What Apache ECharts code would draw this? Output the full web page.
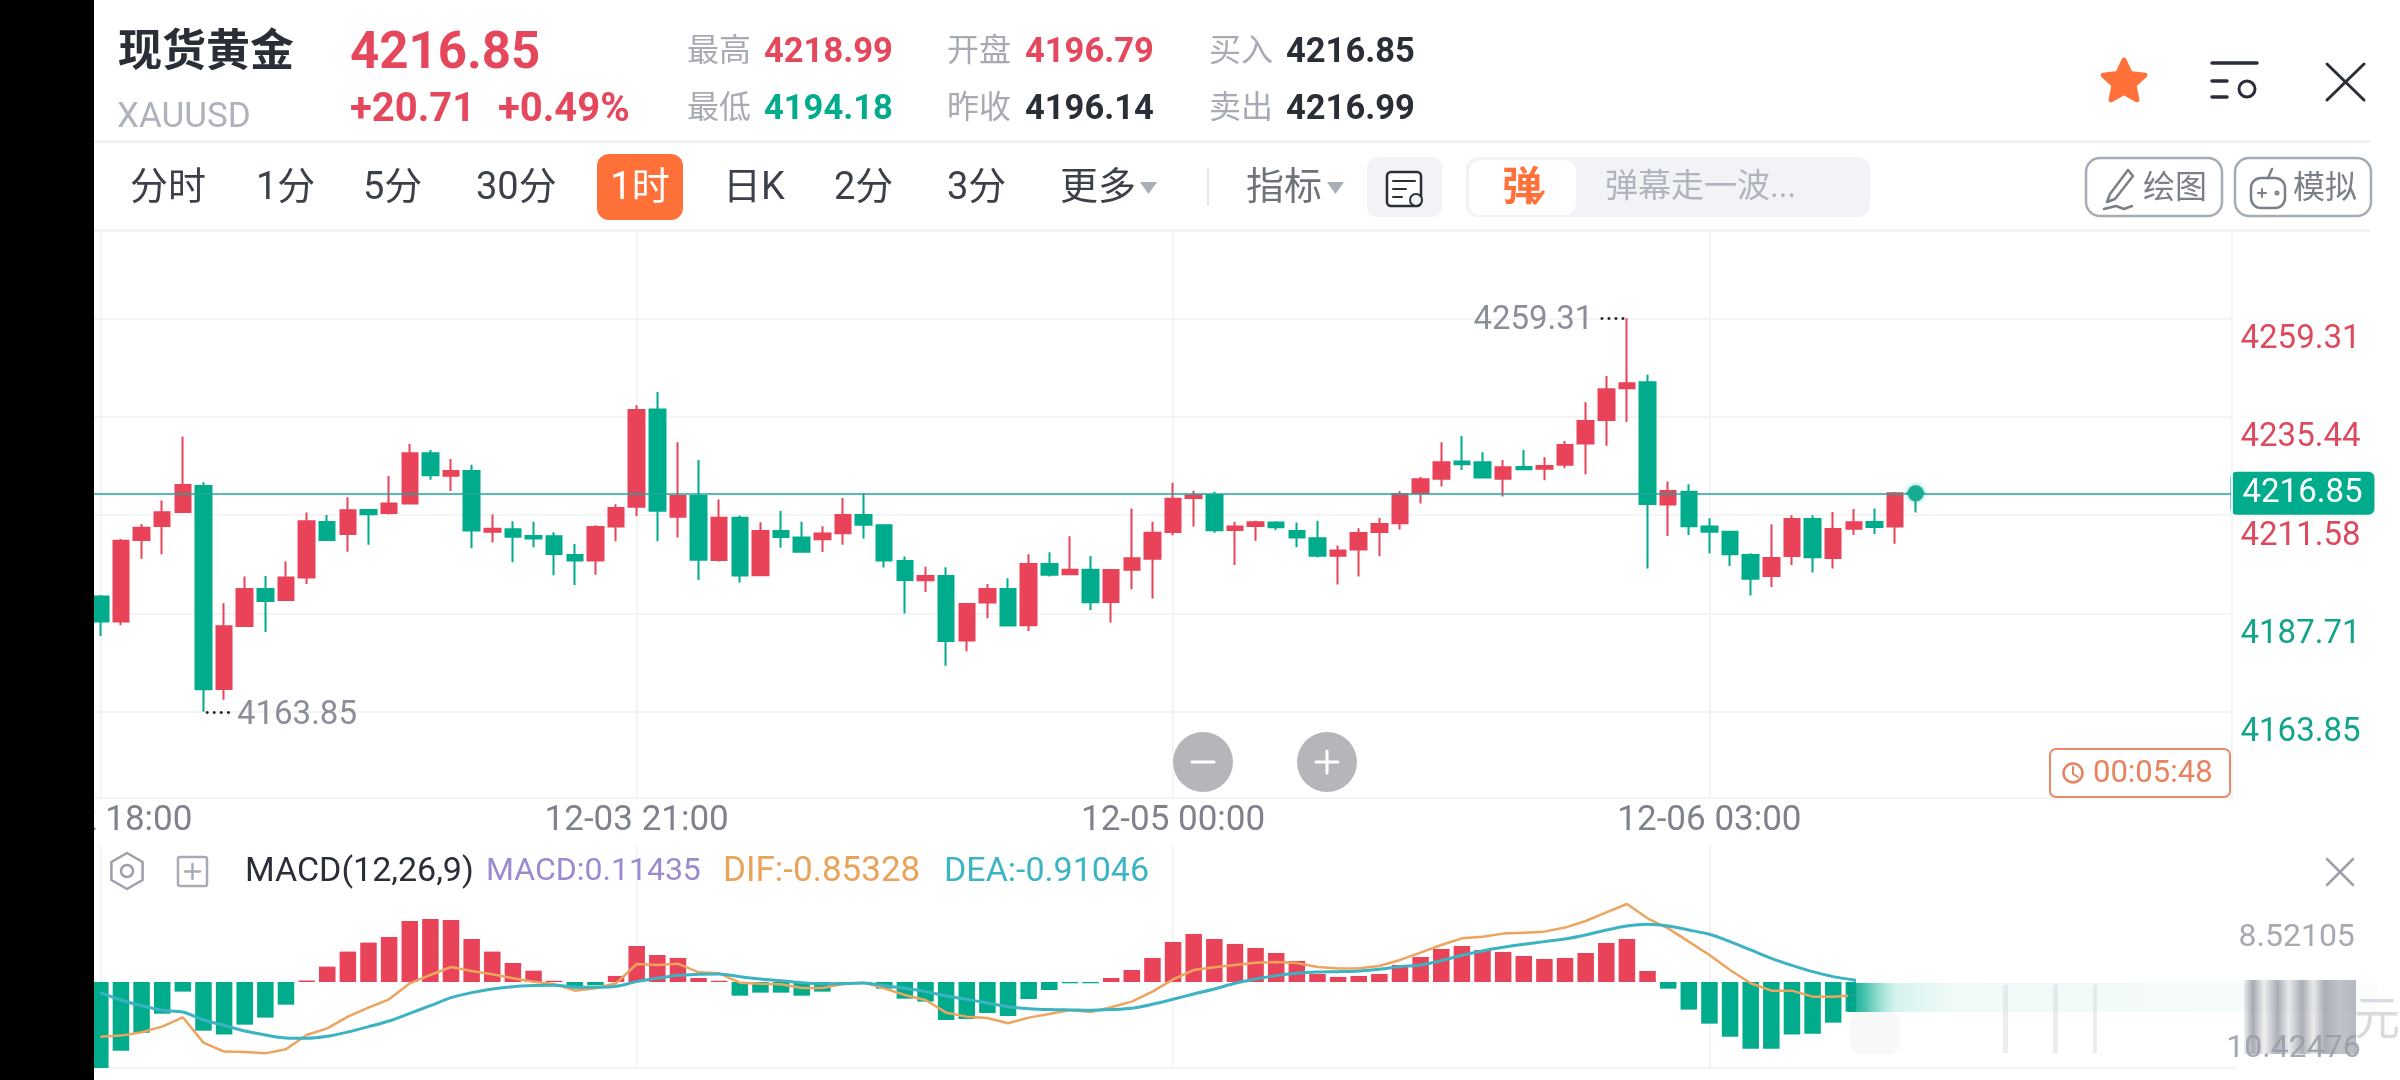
<!DOCTYPE html>
<html>
<head>
<meta charset="utf-8">
<title>现货黄金</title>
<script src="https://cdn.jsdelivr.net/npm/echarts@6/dist/echarts.min.js"></script>
<style>
html,body{margin:0;padding:0;background:#fff}
#chart{width:2400px;height:1080px}
</style>
</head>
<body>
<div id="chart"></div>
<script>
// K线数据，从图上读出来的
var opens = [4191.78,4185.71,4205.52,4208.92,4212.32,4218.63,4169.37,4184.65,4193.63,4190.96,4196.39,4209.89,4206.98,4212.80,4212.07,4214.34,4226.55,4221.13,4222.27,4207.54,4208.11,4206.49,4206.41,4201.88,4200.51,4208.76,4213.61,4237.15,4211.18,4216.20,4200.67,4210.94,4196.95,4207.71,4206.09,4205.68,4207.14,4211.59,4209.08,4200.43,4195.74,4196.79,4181.10,4190.32,4193.63,4184.82,4199.70,4197.19,4198.32,4190.48,4198.32,4200.99,4207.46,4215.71,4216.44,4207.95,4208.92,4209.73,4207.71,4205.93,4201.72,4203.18,4207.46,4209.57,4216.85,4220.40,4224.53,4224.37,4220.40,4223.24,4222.83,4223.80,4228.90,4234.64,4242.33,4243.78,4214.10,4217.25,4208.76,4207.54,4201.88,4196.79,4201.64,4210.62,4201.16,4208.27,4209.89,4208.76,4217.00];
var closes = [4185.71,4205.36,4208.51,4212.24,4218.87,4169.29,4184.57,4193.63,4190.72,4196.39,4210.05,4205.52,4212.72,4211.75,4214.34,4226.55,4221.21,4222.27,4207.79,4208.27,4206.33,4205.85,4202.13,4200.51,4208.68,4213.29,4237.07,4212.64,4216.20,4200.75,4210.94,4196.87,4207.71,4206.25,4202.69,4207.06,4211.59,4209.24,4200.51,4195.82,4196.79,4181.02,4189.99,4193.63,4184.74,4199.70,4197.11,4198.32,4190.40,4198.24,4201.07,4207.30,4215.55,4216.36,4207.87,4208.76,4209.81,4208.60,4206.09,4201.72,4202.94,4207.22,4209.40,4216.68,4220.24,4224.37,4223.88,4220.65,4223.15,4222.67,4223.48,4228.57,4234.40,4242.08,4243.54,4214.26,4217.41,4208.84,4207.54,4202.05,4196.14,4201.16,4210.62,4201.32,4208.19,4209.81,4208.68,4216.85,4216.85];
var lows = [4182.23,4184.82,4200.99,4202.05,4212.24,4163.85,4166.78,4184.49,4183.20,4190.96,4194.85,4205.28,4202.69,4204.39,4211.67,4214.18,4220.16,4217.41,4203.50,4204.88,4200.11,4203.74,4196.95,4194.61,4197.11,4205.20,4211.35,4205.20,4206.09,4195.82,4200.27,4195.17,4196.87,4203.66,4202.61,4202.61,4204.39,4205.85,4198.81,4187.65,4192.91,4175.03,4178.51,4186.52,4184.65,4183.44,4196.63,4197.11,4188.54,4185.47,4193.55,4191.29,4206.66,4208.76,4207.30,4199.46,4205.36,4207.87,4203.74,4201.24,4194.69,4196.63,4201.56,4208.03,4214.34,4218.47,4222.51,4220.57,4216.04,4222.67,4220.00,4222.91,4221.46,4228.41,4234.16,4198.57,4206.49,4206.74,4202.29,4199.21,4192.02,4194.12,4199.46,4197.60,4198.57,4206.74,4206.98,4204.63,4212.16];
var highs = [4192.18,4205.77,4209.40,4215.07,4230.60,4219.51,4190.16,4196.63,4196.79,4200.27,4212.16,4211.59,4215.88,4212.80,4221.05,4228.82,4227.36,4225.18,4223.80,4211.67,4210.05,4209.97,4207.38,4204.55,4209.08,4214.18,4238.20,4241.43,4229.22,4224.93,4215.31,4211.43,4209.81,4212.64,4209.97,4208.84,4215.71,4216.85,4209.08,4201.48,4199.05,4198.89,4189.99,4194.85,4196.22,4202.05,4202.53,4206.41,4201.64,4198.24,4213.13,4209.97,4219.43,4217.49,4217.25,4209.97,4210.21,4210.05,4209.73,4210.21,4204.15,4208.35,4210.86,4217.33,4220.89,4229.22,4230.76,4226.79,4224.93,4227.36,4225.58,4229.55,4238.93,4245.32,4259.31,4245.64,4219.68,4219.03,4210.78,4207.54,4202.29,4209.32,4211.51,4211.51,4212.32,4213.05,4213.13,4217.17,4218.47];

// MACD 副图
var macdBars = [-10.42,-8.32,-6.14,-3.84,-1.17,-5.90,-6.38,-5.17,-4.32,-2.75,0.18,1.86,3.68,4.77,5.45,7.39,7.64,7.51,5.21,3.68,2.30,1.37,0.15,-0.81,-0.40,0.73,4.36,3.27,2.91,0.48,0.15,-1.66,-1.29,-1.29,-1.66,-1.17,-0.10,-0.10,-0.81,-2.02,-2.38,-4.61,-4.48,-3.76,-4.12,-2.06,-0.97,-0.16,-0.16,0.48,1.45,2.91,4.85,5.82,5.21,4.61,4.12,3.51,2.55,0.97,0.61,0.73,0.97,2.06,3.03,4.00,4.36,3.88,3.64,3.15,2.79,2.91,3.51,4.73,5.21,1.33,-0.81,-3.35,-5.05,-6.63,-8.08,-8.08,-6.38,-6.26,-4.93,-3.60,-1.60,-0.70,0.11435];
var dif = [-6.63,-6.50,-6.10,-5.41,-4.28,-7.35,-8.44,-8.48,-8.65,-8.16,-6.42,-5.62,-4.20,-3.11,-2.10,-0.16,0.85,1.82,1.33,0.93,0.44,0.04,-0.24,-1.05,-0.77,-0.16,2.18,2.06,2.22,1.17,1.05,-0.08,-0.20,-0.28,-0.73,-0.73,-0.24,-0.08,-0.77,-1.58,-2.18,-3.72,-4.20,-4.36,-5.01,-4.32,-3.88,-3.39,-3.64,-3.07,-2.38,-1.17,0.32,1.45,1.78,2.06,2.34,2.42,2.30,1.82,1.62,1.66,1.94,2.67,3.56,4.48,5.29,5.49,5.86,5.98,6.10,6.59,7.39,8.44,9.45,7.72,6.50,4.89,3.27,1.45,-0.16,-1.05,-1.05,-1.78,-1.78,-1.62,-1.37,-1.05,-0.85328];
var dea = [-1.29,-2.18,-2.87,-3.43,-3.64,-4.61,-5.25,-5.94,-6.42,-6.79,-6.83,-6.59,-6.06,-5.41,-4.73,-3.80,-2.87,-1.90,-1.29,-0.85,-0.57,-0.44,-0.40,-0.61,-0.65,-0.53,0.04,0.44,0.81,0.93,0.97,0.65,0.36,0.16,-0.08,-0.20,-0.20,-0.12,-0.44,-0.77,-1.17,-1.70,-2.10,-2.55,-2.99,-3.23,-3.35,-3.39,-3.43,-3.35,-3.19,-2.71,-2.10,-1.45,-0.85,-0.16,0.36,0.77,1.05,1.21,1.25,1.33,1.54,1.86,2.06,2.59,3.23,3.76,4.20,4.57,4.89,5.21,5.70,6.30,6.79,6.99,6.79,6.30,5.78,4.89,3.88,2.87,2.02,1.25,0.65,0.24,-0.24,-0.57,-0.91046];

// 坐标轴
var timeTicks = {0:'12-02 18:00', 26:'12-03 21:00', 52:'12-05 00:00', 78:'12-06 03:00'};
var priceTicks = [4259.31, 4235.44, 4211.58, 4187.71, 4163.85];
var macdTicks = [8.52105, -10.42476];
var lastPrice = 4216.85;
var highPrice = 4259.31;
var lowPrice = 4163.85;
var categories = [];
for (var c = 0; c < 104; c++) categories.push(timeTicks[c] || String(c));

var RED = '#E9435A', GREEN = '#00AC8C', GRID = '#F4F4F6', FONT = 'Roboto, "Noto Sans CJK SC"';
function isTickFn(i) { return timeTicks[i] !== undefined; }

// graphic 小工具
function txt(x, y, text, size, fill, weight, align) {
    return {type: 'text', z: 50, style: {x: x, y: y + 3, text: text, fontSize: size, fontFamily: FONT,
        fontWeight: weight || 'normal', fill: fill, textAlign: align || 'left', textVerticalAlign: 'middle'}};
}
function box(x, y, w, h, fill, r, stroke, lw) {
    return {type: 'rect', z: 40, shape: {x: x, y: y, width: w, height: h, r: r || 0},
        style: {fill: fill || 'none', stroke: stroke || null, lineWidth: lw || 0}};
}
function seg(pts, stroke, lw) {
    return {type: 'polyline', z: 50, shape: {points: pts}, style: {fill: 'none', stroke: stroke, lineWidth: lw || 2, lineCap: 'round', lineJoin: 'round'}};
}
function ring(cx, cy, r, stroke, lw, fill) {
    return {type: 'circle', z: 50, shape: {cx: cx, cy: cy, r: r}, style: {fill: fill || 'none', stroke: stroke, lineWidth: lw}};
}
function starPts(cx, cy, R, rr) {
    var p = [];
    for (var i = 0; i < 10; i++) {
        var a = -Math.PI / 2 + i * Math.PI / 5, d = i % 2 ? rr : R;
        p.push([cx + d * Math.cos(a), cy + d * Math.sin(a)]);
    }
    return p;
}
function hexPts(cx, cy, R) {
    var p = [];
    for (var i = 0; i <= 6; i++) {
        var a = -Math.PI / 2 + i * Math.PI / 3;
        p.push([cx + R * Math.cos(a), cy + R * Math.sin(a)]);
    }
    return p;
}
function fade(stops) {
    return {type: 'linear', x: 0, y: 0, x2: 1, y2: 0, colorStops: stops};
}
function lift(el, z) { el.z = z; return el; }

var DARK = '#2A2E36', GREY = '#A7ABB3', TOOL = '#3C4048', STRIPE = 'rgba(150,155,165,';
var graphics = [
    // 顶部报价
    txt(118, 52, '现货黄金', 44, DARK, 'bold'),
    txt(350, 52, '4216.85', 51, '#E5475C', 'bold'),
    txt(117, 115, 'XAUUSD', 35, '#AEB2BA'),
    txt(350, 108, '+20.71', 40, '#E5475C', 'bold'),
    txt(498, 108, '+0.49%', 40, '#E5475C', 'bold'),
    txt(687, 50, '最高', 32, GREY), txt(764, 50, '4218.99', 34.5, '#E5475C', 'bold'),
    txt(687, 107, '最低', 32, GREY), txt(764, 107, '4194.18', 34.5, GREEN, 'bold'),
    txt(947, 50, '开盘', 32, GREY), txt(1025, 50, '4196.79', 34.5, '#E5475C', 'bold'),
    txt(947, 107, '昨收', 32, GREY), txt(1025, 107, '4196.14', 34.5, DARK, 'bold'),
    txt(1209, 50, '买入', 32, GREY), txt(1286, 50, '4216.85', 34.5, DARK, 'bold'),
    txt(1209, 107, '卖出', 32, GREY), txt(1286, 107, '4216.99', 34.5, DARK, 'bold'),
    {type: 'polygon', z: 50, shape: {points: starPts(2124, 82, 22, 10.5)}, style: {fill: '#FF7139', stroke: '#FF7139', lineWidth: 5, lineJoin: 'round'}},
    seg([[2212, 63], [2257, 63]], DARK, 3.5), seg([[2212, 81], [2227, 81]], DARK, 3.5), seg([[2212, 97], [2227, 97]], DARK, 3.5),
    ring(2247, 89, 8, DARK, 3),
    seg([[2327, 64], [2364, 100]], DARK, 3), seg([[2364, 64], [2327, 100]], DARK, 3),
    box(94, 140, 2276, 3, '#EEF0F2'),
    box(94, 229, 2276, 3, '#F1F2F4'),

    // 周期工具栏
    txt(130, 186, '分时', 38, TOOL), txt(256, 186, '1分', 38, TOOL), txt(363, 186, '5分', 38, TOOL), txt(476, 186, '30分', 38, TOOL),
    box(597, 154, 86, 66, '#FF7139', 12), txt(640, 186, '1时', 38, '#fff', 'normal', 'center'),
    txt(723, 186, '日K', 38, TOOL), txt(834, 186, '2分', 38, TOOL), txt(947, 186, '3分', 38, TOOL), txt(1060, 186, '更多', 38, TOOL),
    {type: 'polygon', z: 50, shape: {points: [[1140, 182], [1157, 182], [1148.5, 194]]}, style: {fill: '#A9ADB5'}},
    box(1207, 168, 2, 38, '#E6E8EB'),
    txt(1246, 186, '指标', 38, '#6E727B'),
    {type: 'polygon', z: 50, shape: {points: [[1327, 182], [1344, 182], [1335.5, 194]]}, style: {fill: '#A9ADB5'}},
    box(1367, 157, 75, 60, '#F1F3F7', 10),
    box(1387, 172, 34, 34, '#fff', 4, DARK, 2.5),
    seg([[1393, 181], [1415, 181]], DARK, 2), seg([[1393, 189], [1406, 189]], DARK, 2), seg([[1393, 197], [1402, 197]], DARK, 2),
    ring(1416, 200, 6, DARK, 2, '#F1F3F7'),
    box(1466, 157, 404, 60, '#F1F3F7', 12),
    box(1469, 160, 107, 55, '#fff', 12),
    txt(1522, 187, '弹', 40, '#FF7139', 'bold', 'center'),
    seg([[1530, 197], [1535, 203], [1543, 192]], '#FF7139', 3.5),
    txt(1605, 186, '弹幕走一波...', 33, '#B0B4BD'),
    box(2086, 158, 136, 58, '#fff', 14, '#A6ACB4', 2.5),
    seg([[2128, 170], [2110, 194], [2107, 202], [2115, 199], [2133, 176], [2128, 170]], '#7B7F88', 2.5),
    seg([[2104, 209], [2116, 206], [2124, 209], [2132, 206]], '#7B7F88', 2.5),
    txt(2143, 187, '绘图', 32, '#7B7F88'),
    box(2235, 158, 136, 58, '#fff', 14, '#A6ACB4', 2.5),
    box(2251, 178, 34, 30, 'none', 10, '#7B7F88', 2.5),
    seg([[2268, 178], [2272, 169]], '#7B7F88', 2.5),
    seg([[2258, 193], [2266, 193]], '#7B7F88', 2), seg([[2262, 189], [2262, 197]], '#7B7F88', 2), ring(2277, 193, 1.5, '#7B7F88', 2),
    txt(2293, 187, '模拟', 32, '#7B7F88'),

    // 价格轴竖线，网格比它多出的一点盖掉
    box(2233, 232, 5, 238, '#fff'), box(2233, 517, 5, 282, '#fff'),
    box(2231, 232, 2, 566, GRID),

    // 缩放按钮
    {type: 'circle', z: 50, shape: {cx: 1203, cy: 762, r: 30}, style: {fill: '#B4B6BA'}},
    seg([[1192, 762], [1214, 762]], '#fff', 3),
    {type: 'circle', z: 50, shape: {cx: 1327, cy: 762, r: 30}, style: {fill: '#B4B6BA'}},
    seg([[1316, 762], [1338, 762]], '#fff', 3), seg([[1327, 751], [1327, 773]], '#fff', 3),

    // 倒计时
    box(2050, 749, 180, 48, '#fff', 6, '#E8896A', 2),
    ring(2073, 773, 9.5, '#E8835F', 2.5),
    seg([[2073, 767], [2073, 774], [2078, 777]], '#E8835F', 2),
    txt(2093, 771, '00:05:48', 31, '#E8835F'),

    // MACD 标题
    seg(hexPts(127, 871, 18), '#9CA0A8', 2.5), ring(127, 871, 6, '#9CA0A8', 2.5),
    box(178, 857, 29, 29, 'none', 2, '#A7ABB3', 2.5),
    seg([[185, 871.5], [200, 871.5]], '#A7ABB3', 2.5), seg([[192.5, 864], [192.5, 879]], '#A7ABB3', 2.5),
    txt(245, 869, 'MACD(12,26,9)', 34, DARK),
    txt(486, 869, 'MACD:0.11435', 32, '#9B8AD0'),
    txt(723, 869, 'DIF:-0.85328', 35, '#EAA35A'),
    txt(944, 869, 'DEA:-0.91046', 34, '#3BB5C4'),
    seg([[2327, 859], [2353, 885]], '#9CA0A8', 2.5), seg([[2353, 859], [2327, 885]], '#9CA0A8', 2.5),

    // 右下角被抹掉的一块
    lift(box(1856, 960, 370, 107, '#fff'), 60),
    lift(box(1850, 1012, 50, 42, 'rgba(215,218,222,0.18)', 10), 61),
    lift(box(2003, 985, 5, 68, 'rgba(205,208,212,0.4)'), 61),
    lift(box(2053, 985, 5, 68, 'rgba(205,208,212,0.4)'), 61),
    lift(box(2093, 985, 4, 68, 'rgba(205,208,212,0.4)'), 61),
    {type: 'rect', z: 62, shape: {x: 1848, y: 983, width: 530, height: 29}, style: {fill: fade([
        {offset: 0, color: 'rgba(0,160,140,0.95)'}, {offset: 0.03, color: 'rgba(0,172,140,0.75)'},
        {offset: 0.09, color: 'rgba(120,215,200,0.3)'}, {offset: 0.2, color: 'rgba(195,235,228,0.25)'},
        {offset: 0.75, color: 'rgba(205,235,230,0.2)'}, {offset: 1, color: 'rgba(220,238,235,0.1)'}])}},
    {type: 'rect', z: 63, shape: {x: 2244, y: 980, width: 112, height: 74}, style: {fill: fade([
        {offset: 0, color: STRIPE + '0.15)'}, {offset: 0.08, color: STRIPE + '0.85)'}, {offset: 0.18, color: STRIPE + '0.15)'},
        {offset: 0.3, color: STRIPE + '0.8)'}, {offset: 0.4, color: STRIPE + '0.2)'},
        {offset: 0.52, color: STRIPE + '0.8)'}, {offset: 0.62, color: STRIPE + '0.2)'},
        {offset: 0.72, color: STRIPE + '0.8)'}, {offset: 0.85, color: STRIPE + '0.6)'}, {offset: 1, color: STRIPE + '0.7)'}])}},
    lift(txt(2354, 1019, '元', 46, '#D8DADF'), 64),

    // 左边黑边
    {type: 'rect', z: 100, shape: {x: 0, y: 0, width: 94, height: 1080}, style: {fill: '#000'}}
];

var myChart = echarts.init(document.getElementById('chart'), null, {renderer: 'canvas'});
myChart.setOption({
    animation: false,
    backgroundColor: '#fff',
    textStyle: {fontFamily: FONT},
    graphic: {elements: graphics},
    grid: [
        {left: 90, width: 2145.5, top: 231, height: 567},
        {left: 90, width: 2145.5, top: 845, height: 223}
    ],
    xAxis: [
        {
            type: 'category', gridIndex: 0, data: categories, boundaryGap: true,
            axisLine: {lineStyle: {color: GRID, width: 2}},
            axisTick: {show: false},
            axisLabel: {interval: isTickFn, margin: 6, fontSize: 35, fontFamily: FONT, color: '#7E828C'},
            splitLine: {show: true, alignWithLabel: true, interval: isTickFn, lineStyle: {color: GRID, width: 2}}
        },
        {
            type: 'category', gridIndex: 1, data: categories, boundaryGap: true,
            axisLine: {onZero: false, lineStyle: {color: GRID, width: 2}},
            axisTick: {show: false},
            axisLabel: {show: false},
            splitLine: {show: true, alignWithLabel: true, interval: isTickFn, lineStyle: {color: GRID, width: 2}}
        }
    ],
    yAxis: [
        {
            type: 'value', gridIndex: 0, position: 'right', min: 4142.91, max: 4280.49, scale: true,
            axisLine: {show: false},
            axisTick: {show: false, customValues: priceTicks},
            splitLine: {show: true, lineStyle: {color: GRID, width: 2}},
            axisLabel: {
                customValues: priceTicks, margin: 5, fontSize: 33, fontFamily: FONT,
                verticalAlign: 'top', lineHeight: 33, padding: [5, 0, 0, 0],
                formatter: function (v) { return v.toFixed(2); },
                color: function (v) { return v > 4200 ? '#DC4A5E' : '#12A58B'; }
            }
        },
        {
            type: 'value', gridIndex: 1, position: 'right', min: -10.42476, max: 16.6,
            axisLine: {show: false},
            axisTick: {show: false, customValues: macdTicks},
            splitLine: {show: false},
            axisLabel: {
                customValues: macdTicks, margin: -18,
                formatter: function (v) { return (v > 0 ? '{a|' : '{b|') + v.toFixed(5) + '}'; },
                rich: {
                    a: {fontSize: 32, fontFamily: FONT, color: '#A5A9B2', padding: [52, 0, 0, 21]},
                    b: {fontSize: 32, fontFamily: FONT, color: '#A5A9B2', padding: [0, 0, 38, 0]}
                }
            }
        }
    ],
    series: [
        {
            type: 'candlestick', xAxisIndex: 0, yAxisIndex: 0, barWidth: 16,
            data: opens.map(function (o, i) { return [o, closes[i], lows[i], highs[i]]; }),
            itemStyle: {color: RED, color0: GREEN, borderColor: RED, borderColor0: GREEN, borderWidth: 2},
            markLine: {
                silent: true, symbol: 'none', animation: false,
                lineStyle: {color: '#1FA79A', width: 1.5, type: 'solid'},
                label: {position: 'end', distance: -5, fontSize: 33, fontFamily: FONT, color: '#fff', backgroundColor: GREEN,
                    borderRadius: 6, padding: [5, 12, 5, 12], lineHeight: 33,
                    formatter: function () { return lastPrice.toFixed(2); }},
                data: [{yAxis: lastPrice}]
            },
            markPoint: {
                silent: true, animation: false,
                data: [
                    {coord: [74, highPrice], symbolSize: 1, itemStyle: {color: 'transparent'},
                        label: {show: true, position: 'left', distance: 0, offset: [0, 3], formatter: '{t|' + highPrice + '}{d|····}',
                            rich: {t: {fontSize: 33, fontFamily: FONT, color: '#8A8E99', padding: [0, 5, 0, 0]},
                                d: {fontSize: 27, color: '#222', fontFamily: 'Roboto'}}}},
                    {coord: [5, lowPrice], symbolSize: 1, itemStyle: {color: 'transparent'},
                        label: {show: true, position: 'right', distance: 0, offset: [0, 4], formatter: '{d|····}{t|' + lowPrice + '}',
                            rich: {t: {fontSize: 33, fontFamily: FONT, color: '#8A8E99', padding: [0, 0, 0, 5]},
                                d: {fontSize: 27, color: '#222', fontFamily: 'Roboto'}}}},
                    {coord: [88, lastPrice], symbol: 'circle', symbolSize: 16,
                        itemStyle: {color: '#17AD93', shadowColor: 'rgba(23,173,147,0.7)', shadowBlur: 5},
                        label: {show: false}}
                ]
            }
        },
        {
            type: 'bar', xAxisIndex: 1, yAxisIndex: 1, barWidth: 16.5, data: macdBars,
            itemStyle: {color: function (p) { return p.value >= 0 ? RED : GREEN; }}
        },
        {
            type: 'line', xAxisIndex: 1, yAxisIndex: 1, data: dif, symbol: 'none', z: 3,
            lineStyle: {color: '#EDA45E', width: 2.5}
        },
        {
            type: 'line', xAxisIndex: 1, yAxisIndex: 1, data: dea, symbol: 'none', smooth: 0.3, z: 4,
            lineStyle: {color: '#3BB3C3', width: 3}
        }
    ]
});
</script>
</body>
</html>
